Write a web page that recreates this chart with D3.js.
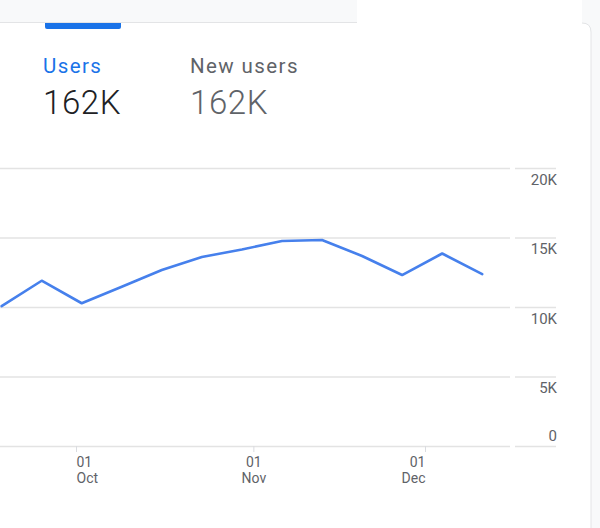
<!DOCTYPE html>
<html>
<head>
<meta charset="utf-8">
<script src="https://cdn.jsdelivr.net/npm/d3@7"></script>
<style>
  html, body { margin: 0; padding: 0; background: #f8f9fa; }
  svg { display: block; font-family: Roboto, "Noto Sans", sans-serif; }
</style>
</head>
<body>
<svg id="chart" width="600" height="528"></svg>
<script>
// ---- data ----
const weekStarts = ["2022-09-18","2022-09-25","2022-10-02","2022-10-09","2022-10-16","2022-10-23",
                    "2022-10-30","2022-11-06","2022-11-13","2022-11-20","2022-11-27","2022-12-04","2022-12-11"];
const users = [10070, 11890, 10270, 11460, 12660, 13600, 14140, 14750, 14820, 13670, 12300, 13850, 12370];
const yTicks = [0, 5000, 10000, 15000, 20000];
const yTickLabels = ["0", "5K", "10K", "15K", "20K"];
const xTickDates = ["2022-10-01", "2022-11-01", "2022-12-01"];
const xTickDays = ["01", "01", "01"];
const xTickMonths = ["Oct", "Nov", "Dec"];
const metricNames = ["Users", "New users"];
const metricValues = ["162K", "162K"];

const parse = d3.utcParse("%Y-%m-%d");
const data = weekStarts.map((d, i) => ({date: parse(d), value: users[i]}));

const svg = d3.select("#chart");

// ---- page chrome ----
svg.append("rect").attr("x", 0).attr("y", 0).attr("width", 600).attr("height", 528).attr("fill", "#f8f9fa");
svg.append("rect").attr("x", 357).attr("y", 0).attr("width", 225).attr("height", 24).attr("fill", "#ffffff");
svg.append("path")
  .attr("d", "M-5,23 L582,23 Q591,23 591,32 L591,530 L-5,530 Z")
  .attr("fill", "#ffffff");
svg.append("path")
  .attr("d", "M582,23 Q591,23 591,32 L591,530")
  .attr("fill", "none").attr("stroke", "#e3e4e6").attr("stroke-width", 1);
svg.append("line").attr("x1", 0).attr("x2", 357).attr("y1", 22.5).attr("y2", 22.5)
  .attr("stroke", "#e3e4e6").attr("stroke-width", 1);
svg.append("path")
  .attr("d", "M45,23 L121,23 L121,27 Q121,29 119,29 L47,29 Q45,29 45,27 Z")
  .attr("fill", "#1a73e8");

// ---- metric headers ----
const metricX = [43, 190];
const nameColors = ["#1a73e8", "#5f6368"];
const valueColors = ["#202124", "#5f6368"];
metricNames.forEach((n, i) => {
  svg.append("text").attr("x", metricX[i]).attr("y", 72.5)
    .attr("font-size", 20.5).attr("letter-spacing", 1.4).attr("fill", nameColors[i]).text(n);
  svg.append("text").attr("x", metricX[i]).attr("y", 113.5)
    .attr("font-size", 33).attr("font-weight", 300).attr("letter-spacing", 0.6)
    .attr("fill", valueColors[i]).text(metricValues[i]);
});

// ---- scales ----
const x = d3.scaleUtc()
  .domain([parse("2022-10-01"), parse("2022-12-01")])
  .range([76, 425]);
const y = d3.scaleLinear().domain([0, 20000]).range([446, 168]);

// gridlines
const grid = svg.append("g").attr("transform", "translate(510,0)")
  .call(d3.axisLeft(y).tickValues(yTicks).tickSize(510).tickFormat(""));
grid.select(".domain").remove();
grid.selectAll(".tick line").attr("stroke", "#e3e3e3").attr("stroke-width", 1.5);

// y axis (right side segments + labels)
const yAxis = svg.append("g").attr("transform", "translate(556,0)")
  .call(d3.axisLeft(y).tickValues(yTicks).tickSize(41)
        .tickFormat((d, i) => yTickLabels[i]));
yAxis.select(".domain").remove();
yAxis.selectAll(".tick line").attr("stroke", "#e3e3e3").attr("stroke-width", 1.5);
yAxis.selectAll(".tick text")
  .attr("x", 1).attr("dy", null)
  .attr("y", d => d === 0 ? -6 : 16)
  .attr("text-anchor", "end")
  .attr("font-family", "Roboto, sans-serif")
  .attr("font-size", 15).attr("fill", "#5f6368");

// x axis
const xAxis = svg.append("g").attr("transform", "translate(0,446)")
  .call(d3.axisBottom(x).tickValues(xTickDates.map(parse)).tickSize(6).tickFormat(""));
xAxis.select(".domain").remove();
xAxis.selectAll(".tick line").attr("stroke", "#dadce0");
const anchors = ["start", "middle", "end"];
xAxis.selectAll(".tick").each(function(d, i) {
  const t = d3.select(this).select("text")
    .attr("text-anchor", anchors[i]).attr("y", 0).attr("dy", null)
    .attr("font-family", "Roboto, sans-serif")
    .attr("font-size", 14).attr("fill", "#5f6368");
  t.append("tspan").attr("x", 0).attr("y", 21).text(xTickDays[i]);
  t.append("tspan").attr("x", 0).attr("y", 37).text(xTickMonths[i]);
});

// line
const line = d3.line().x(d => x(d.date)).y(d => y(d.value));
svg.append("path").datum(data)
  .attr("d", line)
  .attr("fill", "none")
  .attr("stroke", "#4680ec")
  .attr("stroke-width", 2.6)
  .attr("stroke-linejoin", "round")
  .attr("stroke-linecap", "round");
</script>
</body>
</html>
